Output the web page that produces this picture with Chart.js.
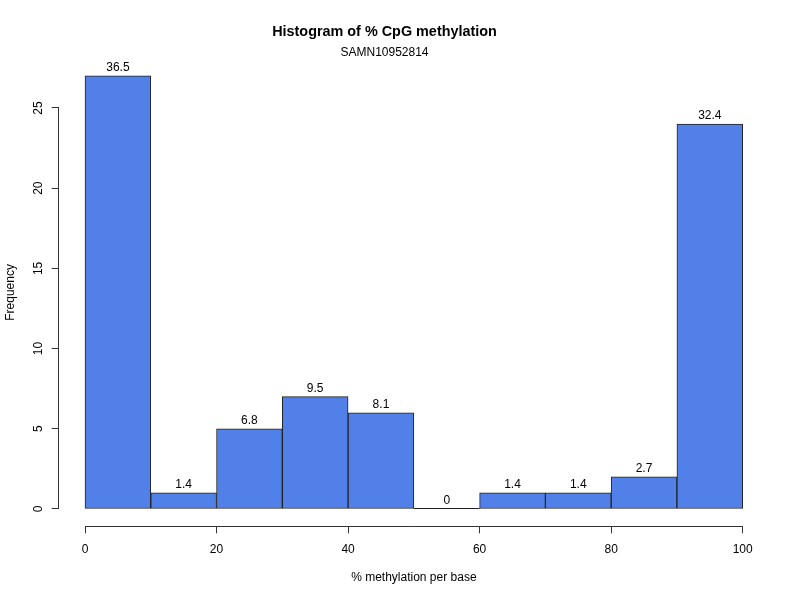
<!DOCTYPE html>
<html>
<head>
<meta charset="utf-8">
<script src="https://cdn.jsdelivr.net/npm/chart.js@4"></script>
<style>
  body { margin: 0; background: #fff; }
  #hist { display: block; }
</style>
</head>
<body>
<canvas id="hist" width="800" height="600"></canvas>
<script>
// bins of 10 % methylation, centred on the mid point
const binCenters = [5, 15, 25, 35, 45, 55, 65, 75, 85, 95];
const counts = [27, 1, 5, 7, 6, 0, 1, 1, 2, 24];
const percentLabels = ['36.5', '1.4', '6.8', '9.5', '8.1', '0', '1.4', '1.4', '2.7', '32.4'];
const xTicks = [0, 20, 40, 60, 80, 100];
const yTicks = [0, 5, 10, 15, 20, 25];

Chart.defaults.font.family = '"Liberation Sans", Arial, Helvetica, sans-serif';
Chart.defaults.font.size = 12;
Chart.defaults.color = '#000';

const axisColor = '#333';

// R-style detached axis lines + the "percent" labels above each bar
const histExtras = {
  id: 'histExtras',
  afterDatasetsDraw(chart) {
    const ctx = chart.ctx;
    const meta = chart.getDatasetMeta(0);
    ctx.save();
    ctx.font = '12px "Liberation Sans", Arial, sans-serif';
    ctx.fillStyle = '#000';
    ctx.textAlign = 'center';
    ctx.textBaseline = 'bottom';
    meta.data.forEach((el, i) => {
      if (counts[i] === 0) {
        // empty bin still shows its outline on the baseline
        ctx.strokeStyle = '#222';
        ctx.lineWidth = 1;
        ctx.beginPath();
        ctx.moveTo(el.x - el.width / 2, Math.round(el.y) - 0.5);
        ctx.lineTo(el.x + el.width / 2, Math.round(el.y) - 0.5);
        ctx.stroke();
      }
      ctx.fillText(percentLabels[i], el.x, el.y - 2);
    });

    const xs = chart.scales.x, ys = chart.scales.y, area = chart.chartArea;
    ctx.strokeStyle = axisColor;
    ctx.lineWidth = 1;
    ctx.beginPath();
    const by = Math.round(area.bottom) + 0.5;
    ctx.moveTo(xs.getPixelForValue(xTicks[0]), by);
    ctx.lineTo(xs.getPixelForValue(xTicks[xTicks.length - 1]), by);
    const lx = Math.round(area.left) - 0.5;
    ctx.moveTo(lx, ys.getPixelForValue(yTicks[0]));
    ctx.lineTo(lx, ys.getPixelForValue(yTicks[yTicks.length - 1]));
    ctx.stroke();
    ctx.restore();
  }
};

new Chart(document.getElementById('hist'), {
  type: 'bar',
  data: {
    datasets: [{
      label: 'Frequency',
      data: binCenters.map((x, i) => ({ x: x, y: counts[i] })),
      backgroundColor: '#5080E8',
      borderColor: '#222',
      borderWidth: 1,
      borderSkipped: false,
      barPercentage: 1,
      categoryPercentage: 1
    }]
  },
  options: {
    responsive: false,
    animation: false,
    layout: { padding: { left: 0, right: 31, top: 0, bottom: 0 } },
    plugins: {
      legend: { display: false },
      tooltip: { enabled: false },
      title: {
        display: true,
        text: 'Histogram of % CpG methylation',
        font: { size: 14.4, weight: 'bold' },
        color: '#000',
        padding: { top: 23, bottom: 4.7 }
      },
      subtitle: {
        display: true,
        text: 'SAMN10952814',
        font: { size: 12, lineHeight: 0.8 },
        color: '#000',
        padding: { top: 3.2, bottom: 0.8 }
      }
    },
    scales: {
      x: {
        type: 'linear',
        offset: false,
        min: -4,
        max: 104,
        afterBuildTicks: s => { s.ticks = xTicks.map(v => ({ value: v })); },
        afterFit: s => { s.height = 73.7; },
        border: { display: false },
        grid: { offset: false, drawOnChartArea: false, drawTicks: true, tickLength: 7, color: axisColor },
        ticks: { padding: 9, maxRotation: 0 },
        title: {
          display: true,
          text: '% methylation per base',
          font: { size: 12 },
          padding: { top: 0, bottom: 15 }
        }
      },
      y: {
        min: -1.08,
        max: 28.08,
        afterBuildTicks: s => { s.ticks = yTicks.map(v => ({ value: v })); },
        afterFit: s => { s.width = 58.7; },
        border: { display: false },
        grid: { drawOnChartArea: false, drawTicks: true, tickLength: 7, color: axisColor },
        ticks: { padding: 6, minRotation: 90, maxRotation: 90, crossAlign: 'center' },
        title: {
          display: true,
          text: 'Frequency',
          font: { size: 12 },
          padding: { top: 3, bottom: 0 }
        }
      }
    }
  },
  plugins: [histExtras]
});
</script>
</body>
</html>
